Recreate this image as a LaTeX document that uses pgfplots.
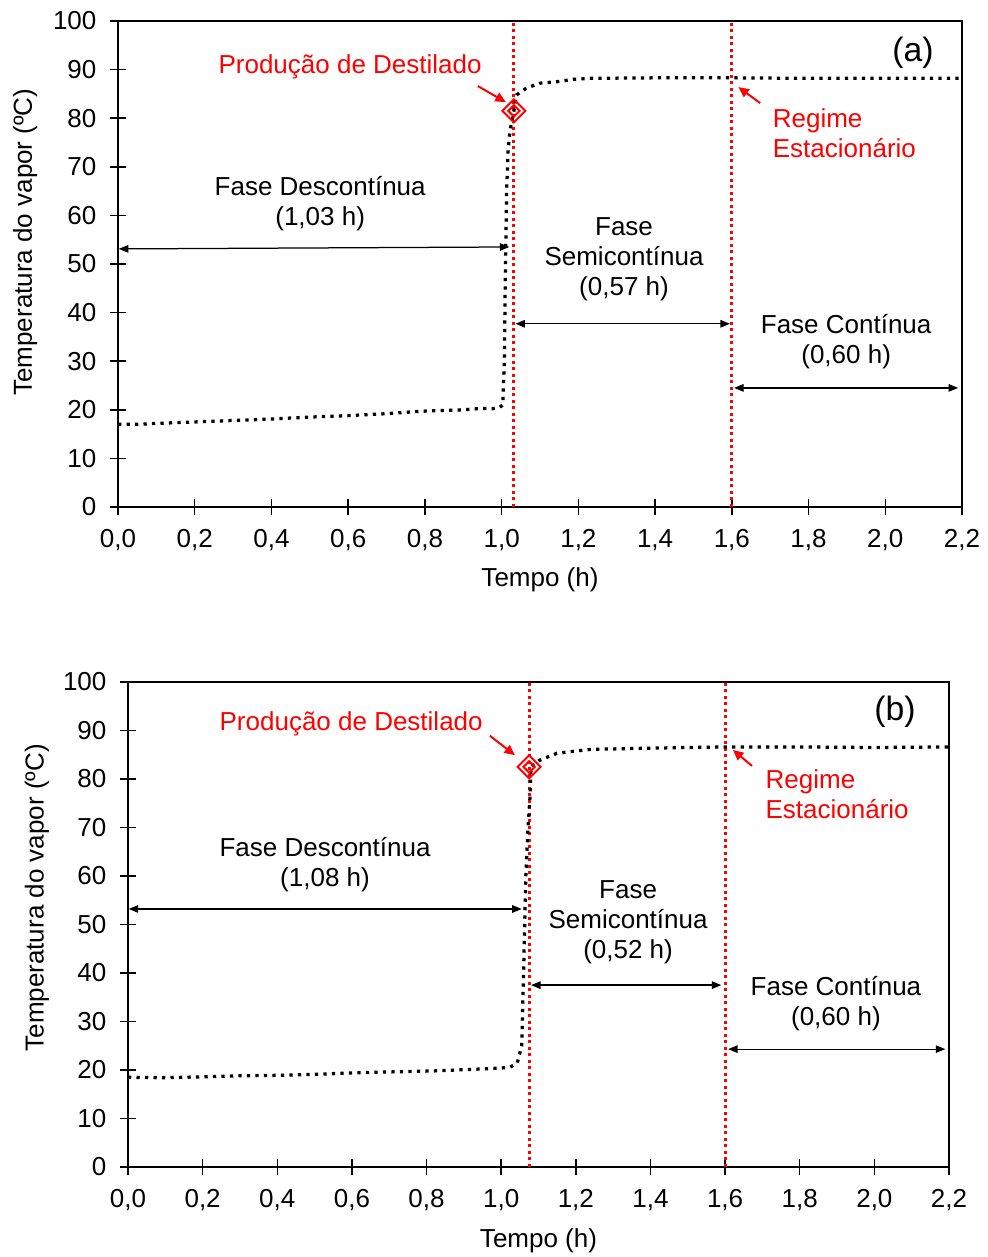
\documentclass[border=0pt]{standalone}
\usepackage{fontspec}
\setmainfont{Liberation Sans}
\usepackage{pgfplots}
\pgfplotsset{compat=1.18}
\usetikzlibrary{arrows.meta}

\definecolor{xlred}{RGB}{255,0,0}

% vapour temperature, run (a)
\pgfplotstableread{
t T
0.000 17.0
0.050 17.0
0.100 17.2
0.200 17.5
0.300 17.8
0.400 18.1
0.500 18.5
0.600 18.8
0.700 19.2
0.790 19.7
0.900 20.0
0.950 20.3
0.975 20.2
0.995 20.5
1.003 21.0
1.007 30.0
1.010 50.0
1.013 65.0
1.017 73.5
1.022 77.6
1.032 81.5
1.039 84.8
1.065 86.2
1.100 87.2
1.144 87.5
1.186 88.0
1.230 88.2
1.400 88.3
1.600 88.3
1.800 88.2
2.000 88.2
2.200 88.2
}\runA

% vapour temperature, run (b)
\pgfplotstableread{
t T
0.000 18.5
0.100 18.4
0.200 18.6
0.300 18.8
0.400 18.9
0.500 19.1
0.600 19.4
0.700 19.6
0.817 19.8
0.943 20.2
1.000 20.4
1.024 20.6
1.043 21.4
1.055 25.0
1.060 40.0
1.066 60.0
1.072 70.0
1.077 76.0
1.080 82.5
1.095 83.6
1.149 85.3
1.238 86.1
1.363 86.3
1.500 86.5
1.600 86.6
1.800 86.6
2.000 86.5
2.200 86.6
}\runB

\newcommand\lbl{\fontsize{10.4}{12}\selectfont}

\tikzset{
  span/.style={black, line width=0.5pt, {Triangle[length=3.8pt,width=3pt]}-{Triangle[length=3.8pt,width=3pt]}},
  pointer/.style={xlred, line width=0.8pt, -{Triangle[length=4.2pt,width=3.8pt]}},
}

\pgfplotsset{
  tempaxis/.style={
    scale only axis,
    anchor=south west,
    xmin=0, xmax=2.2, ymin=0, ymax=100,
    xtick={0,0.2,0.4,0.6,0.8,1.0,1.2,1.4,1.6,1.8,2.0,2.2},
    ytick={0,10,20,30,40,50,60,70,80,90,100},
    tick pos=left,
    tick align=center,
    major tick length=6.2pt,
    tick style={black, line width=0.6pt},
    axis line style={black, line width=0.75pt},
    /pgf/number format/assume math mode=true,
    xticklabel style={yshift=-2.4pt, /pgf/number format/.cd, fixed, fixed zerofill, precision=1, use comma},
    yticklabel style={xshift=-2pt},
    tick label style={font=\lbl},
    label style={font=\lbl},
    xlabel={Tempo (h)},
    ylabel={Temperatura do vapor (ºC)},
    clip=false,
  },
  curve/.style={black, line width=1.3pt, dash pattern=on 1.3pt off 2.1pt, mark=none},
  cut/.style={xlred, line width=1.2pt, dash pattern=on 1.2pt off 1.4pt, mark=none},
}

\begin{document}
\begin{tikzpicture}
\useasboundingbox (0,0) rectangle (394.8pt,502.8pt);

% ---------- (a) ----------
\begin{axis}[tempaxis,
  at={(47.2pt,300pt)}, width=337.6pt, height=194.4pt,
  xlabel style={at={(axis description cs:0.5,-0.150)}, anchor=center},
  ylabel style={at={(axis description cs:-0.110,0.545)}, anchor=center},
]
\addplot[cut] coordinates {(1.032,0) (1.032,100)};
\addplot[cut] coordinates {(1.600,0) (1.600,100)};
\addplot[curve] table[x=t,y=T] {\runA};
\addplot[only marks, mark=square, mark size=3.25pt, xlred, line width=0.8pt, mark options={rotate=45}] coordinates {(1.032,81.5)};
\addplot[only marks, mark=square, mark size=1.6pt, xlred, line width=0.8pt, mark options={rotate=45}] coordinates {(1.032,81.5)};

\draw[span] (axis cs:0.002,53.1) -- (axis cs:1.020,53.5);
\draw[span] (axis cs:1.036,37.7) -- (axis cs:1.595,37.7);
\draw[span] (axis cs:1.606,24.5) -- (axis cs:2.190,24.5);

\node[font=\lbl, align=center] at (axis cs:0.527,62.4) {Fase Descontínua\\(1,03 h)};
\node[font=\lbl, align=center] at (axis cs:1.319,51.0) {Fase\\Semicontínua\\(0,57 h)};
\node[font=\lbl, align=center] at (axis cs:1.898,34.0) {Fase Contínua\\(0,60 h)};
\node[font=\fontsize{13.5}{16}\selectfont] at (axis cs:2.072,93.4) {(a)};

\node[font=\lbl, text=xlred] at (axis cs:0.605,90.6) {Produção de Destilado};
\draw[pointer] (axis cs:0.938,86.6) -- (axis cs:1.011,83.3);
\node[font=\lbl, text=xlred, align=left, anchor=west] at (axis cs:1.684,77.0) {Regime\\Estacionário};
\draw[pointer] (axis cs:1.674,83.1) -- (axis cs:1.617,86.4);
\end{axis}

% ---------- (b) ----------
\begin{axis}[tempaxis,
  at={(51.2pt,36pt)}, width=328.4pt, height=194pt,
  xlabel style={at={(axis description cs:0.5,-0.153)}, anchor=center},
  ylabel style={at={(axis description cs:-0.111,0.555)}, anchor=center},
]
\addplot[cut] coordinates {(1.075,0) (1.075,100)};
\addplot[cut] coordinates {(1.600,0) (1.600,100)};
\addplot[curve] table[x=t,y=T] {\runB};
\addplot[only marks, mark=square, mark size=3.25pt, xlred, line width=0.8pt, mark options={rotate=45}] coordinates {(1.075,82.5)};
\addplot[only marks, mark=square, mark size=1.6pt, xlred, line width=0.8pt, mark options={rotate=45}] coordinates {(1.075,82.5)};

\draw[span] (axis cs:0.002,53.2) -- (axis cs:1.055,53.2);
\draw[span] (axis cs:1.080,37.5) -- (axis cs:1.590,37.5);
\draw[span] (axis cs:1.608,24.3) -- (axis cs:2.190,24.3);

\node[font=\lbl, align=center] at (axis cs:0.528,62.3) {Fase Descontínua\\(1,08 h)};
\node[font=\lbl, align=center] at (axis cs:1.340,50.5) {Fase\\Semicontínua\\(0,52 h)};
\node[font=\lbl, align=center] at (axis cs:1.897,33.6) {Fase Contínua\\(0,60 h)};
\node[font=\fontsize{13.5}{16}\selectfont] at (axis cs:2.055,93.8) {(b)};

\node[font=\lbl, text=xlred] at (axis cs:0.598,91.3) {Produção de Destilado};
\draw[pointer] (axis cs:0.970,88.9) -- (axis cs:1.037,84.9);
\node[font=\lbl, text=xlred, align=left, anchor=west] at (axis cs:1.685,76.9) {Regime\\Estacionário};
\draw[pointer] (axis cs:1.672,82.7) -- (axis cs:1.621,86.0);
\end{axis}
\end{tikzpicture}
\end{document}
